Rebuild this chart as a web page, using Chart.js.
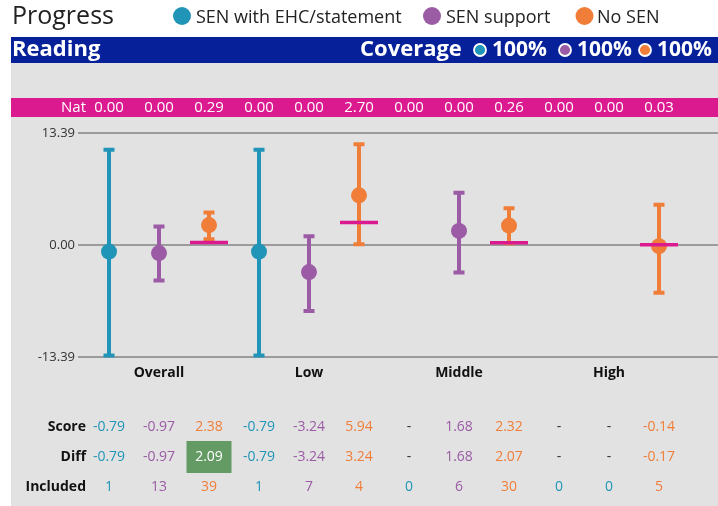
<!DOCTYPE html>
<html>
<head>
<meta charset="utf-8">
<script src="https://cdn.jsdelivr.net/npm/chart.js@4.4.1/dist/chart.umd.min.js"></script>
<style>
  html, body { margin: 0; padding: 0; background: #fff; overflow: hidden; }
  #wrap { width: 718px; height: 506px; }
  canvas { display: block; }
</style>
</head>
<body>
<div id="wrap"><canvas id="progressChart" width="718" height="506"></canvas></div>
<script>
// values
const groups = ['Overall', 'Low', 'Middle', 'High'];
const seriesNames = ['SEN with EHC/statement', 'SEN support', 'No SEN'];
const seriesColors = ['#2195b7', '#9b5ba5', '#f07e38'];
const coverage = [100, 100, 100];
const yTicks = [-13.39, 0, 13.39];

const scoreEhc = [-0.79, -0.79, null, null];
const scoreSupport = [-0.97, -3.24, 1.68, null];
const scoreNoSen = [2.38, 5.94, 2.32, -0.14];

// confidence interval ends
const upperEhc = [11.4, 11.4, null, null];
const lowerEhc = [-13.2, -13.2, null, null];
const upperSupport = [2.2, 1.05, 6.25, null];
const lowerSupport = [-4.25, -7.9, -3.3, null];
const upperNoSen = [3.9, 12.05, 4.4, 4.8];
const lowerNoSen = [0.7, 0.1, 0.2, -5.7];

const natEhc = [0.00, 0.00, 0.00, 0.00];
const natSupport = [0.00, 0.00, 0.00, 0.00];
const natNoSen = [0.29, 2.70, 0.26, 0.03];

const diffEhc = [-0.79, -0.79, null, null];
const diffSupport = [-0.97, -3.24, 1.68, null];
const diffNoSen = [2.09, 3.24, 2.07, -0.17];
const diffSigNoSen = [true, false, false, false];

const includedEhc = [1, 1, 0, 0];
const includedSupport = [13, 7, 6, 0];
const includedNoSen = [39, 4, 30, 5];

const scores = [scoreEhc, scoreSupport, scoreNoSen];
const uppers = [upperEhc, upperSupport, upperNoSen];
const lowers = [lowerEhc, lowerSupport, lowerNoSen];
const nats = [natEhc, natSupport, natNoSen];
const diffs = [diffEhc, diffSupport, diffNoSen];
const diffSig = [[], [], diffSigNoSen];
const includeds = [includedEhc, includedSupport, includedNoSen];

const FONT = '"Open Sans", "Noto Sans", sans-serif';
const MAGENTA = '#dc1a8f';
const slot = (g, s) => g * 3 + s;

function circle(ctx, x, y, r, fill, stroke) {
  ctx.beginPath();
  ctx.arc(x, y, r, 0, Math.PI * 2);
  ctx.fillStyle = fill;
  ctx.fill();
  if (stroke) {
    ctx.lineWidth = 1.8;
    ctx.strokeStyle = stroke;
    ctx.stroke();
  }
}

// page furniture: title, legend, header bars, nat row
const backdrop = {
  id: 'backdrop',
  beforeDraw(chart) {
    const ctx = chart.ctx;
    const xs = chart.scales.x;
    ctx.save();
    ctx.fillStyle = '#fff';
    ctx.fillRect(0, 0, 718, 506);
    ctx.fillStyle = '#e2e2e2';
    ctx.fillRect(11, 63, 707, 443);
    ctx.fillStyle = '#06209a';
    ctx.fillRect(11, 37, 707, 26);
    ctx.fillStyle = MAGENTA;
    ctx.fillRect(11, 98, 707, 19);

    ctx.textBaseline = 'middle';
    ctx.fillStyle = '#222';
    ctx.font = '25px ' + FONT;
    ctx.fillText('Progress', 12, 17);

    const legendX = [182, 432, 584.5];
    const legendGap = [14, 14, 12.5];
    ctx.font = '18px ' + FONT;
    seriesNames.forEach((name, s) => {
      circle(ctx, legendX[s], 16, 9, seriesColors[s]);
      ctx.fillStyle = '#222';
      ctx.fillText(name, legendX[s] + legendGap[s], 18);
    });

    ctx.fillStyle = '#fff';
    ctx.font = 'bold 22px ' + FONT;
    ctx.fillText('Reading', 12, 50);
    ctx.fillText('Coverage', 360, 50);
    const covX = [480, 565, 645];
    ctx.font = 'bold 21px ' + FONT;
    coverage.forEach((c, s) => {
      circle(ctx, covX[s], 50, 6, seriesColors[s], '#fff');
      ctx.fillStyle = '#fff';
      ctx.fillText(c + '%', covX[s] + 12, 50);
    });

    ctx.font = '15px ' + FONT;
    ctx.textAlign = 'right';
    ctx.fillText('Nat', 86, 108);
    ctx.textAlign = 'center';
    groups.forEach((g, gi) => {
      nats.forEach((arr, s) => {
        ctx.fillText(arr[gi].toFixed(2), xs.getPixelForValue(slot(gi, s)), 108);
      });
    });
    ctx.restore();
  },
  beforeDatasetsDraw(chart) {
    const ctx = chart.ctx;
    const xs = chart.scales.x, ys = chart.scales.y;
    ctx.save();
    ctx.lineWidth = 4;
    groups.forEach((g, gi) => {
      seriesColors.forEach((col, s) => {
        if (uppers[s][gi] == null) return;
        const x = xs.getPixelForValue(slot(gi, s));
        const yt = ys.getPixelForValue(uppers[s][gi]);
        const yb = ys.getPixelForValue(lowers[s][gi]);
        ctx.strokeStyle = col;
        ctx.beginPath();
        ctx.moveTo(x, yt); ctx.lineTo(x, yb);
        ctx.moveTo(x - 5.5, yt); ctx.lineTo(x + 5.5, yt);
        ctx.moveTo(x - 5.5, yb); ctx.lineTo(x + 5.5, yb);
        ctx.stroke();
      });
    });
    ctx.restore();
  },
  afterDatasetsDraw(chart) {
    const ctx = chart.ctx;
    const xs = chart.scales.x, ys = chart.scales.y;
    ctx.save();
    ctx.strokeStyle = MAGENTA;
    ctx.lineWidth = 3.5;
    groups.forEach((g, gi) => {
      nats.forEach((arr, s) => {
        if (!arr[gi]) return;
        const x = xs.getPixelForValue(slot(gi, s));
        const y = ys.getPixelForValue(arr[gi]);
        ctx.beginPath();
        ctx.moveTo(x - 19, y); ctx.lineTo(x + 19, y);
        ctx.stroke();
      });
    });
    ctx.restore();
  },
  afterDraw(chart) {
    const ctx = chart.ctx;
    const xs = chart.scales.x;
    ctx.save();
    ctx.textBaseline = 'middle';
    ctx.textAlign = 'center';
    ctx.fillStyle = '#111';
    ctx.font = 'bold 14px ' + FONT;
    groups.forEach((g, gi) => ctx.fillText(g, xs.getPixelForValue(slot(gi, 1)), 373));

    const rows = [['Score', scores, 427], ['Diff', diffs, 457], ['Included', includeds, 487]];
    rows.forEach(([label, data, y]) => {
      ctx.textAlign = 'right';
      ctx.fillStyle = '#111';
      ctx.font = 'bold 14px ' + FONT;
      ctx.fillText(label, 86, y);
      ctx.textAlign = 'center';
      ctx.font = '14px ' + FONT;
      groups.forEach((g, gi) => {
        data.forEach((arr, s) => {
          const x = xs.getPixelForValue(slot(gi, s));
          const v = arr[gi];
          if (v == null) {
            ctx.fillStyle = '#333';
            ctx.fillText('-', x, y);
            return;
          }
          let col = seriesColors[s];
          if (label === 'Included' && v === 0) col = seriesColors[0];
          if (label === 'Diff' && diffSig[s][gi]) {
            ctx.fillStyle = '#649b65';
            ctx.fillRect(x - 22.5, y - 16, 45, 32);
            col = '#fff';
          }
          ctx.fillStyle = col;
          ctx.fillText(label === 'Included' ? String(v) : v.toFixed(2), x, y);
        });
      });
    });
    ctx.restore();
  }
};

const ctx = document.getElementById('progressChart').getContext('2d');
window.progressChart = new Chart(ctx, {
  type: 'scatter',
  data: {
    datasets: seriesNames.map((name, s) => ({
      label: name,
      data: groups.map((g, gi) => scores[s][gi] == null ? null : { x: slot(gi, s), y: scores[s][gi] }).filter(Boolean),
      backgroundColor: seriesColors[s],
      borderWidth: 0,
      pointRadius: 8,
      pointHoverRadius: 8
    }))
  },
  options: {
    responsive: false,
    animation: false,
    events: [],
    layout: { autoPadding: false, padding: { top: 133, bottom: 149, left: 0, right: 0 } },
    plugins: { legend: { display: false }, tooltip: { enabled: false } },
    scales: {
      x: { type: 'linear', min: -0.62, max: 12.18, display: false },
      y: {
        min: -13.39,
        max: 13.39,
        afterBuildTicks: s => { s.ticks = yTicks.map(v => ({ value: v })); },
        afterFit: s => { s.width = 78; s.paddingTop = 0; s.paddingBottom = 0; },
        grid: { color: '#9b9b9b', lineWidth: 2, drawTicks: false },
        border: { display: false },
        ticks: {
          padding: 3,
          color: '#333',
          font: { family: FONT, size: 13 },
          callback: v => v.toFixed(2)
        }
      }
    }
  },
  plugins: [backdrop]
});
</script>
</body>
</html>
